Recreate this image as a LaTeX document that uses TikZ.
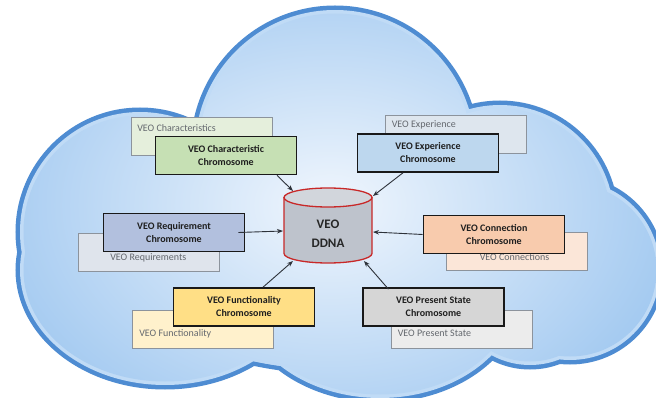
\documentclass[tikz,border=0pt]{standalone}
\usepackage{fontspec}
\setmainfont{Carlito}
\usetikzlibrary{arrows.meta}
\definecolor{cloudline}{RGB}{78,140,210}
\definecolor{cloudrim}{RGB}{192,219,246}
\definecolor{cloudin}{RGB}{240,246,253}
\definecolor{cloudout}{RGB}{136,186,236}
\definecolor{frontline}{RGB}{25,25,25}
\definecolor{backline}{RGB}{140,147,156}
\definecolor{backtextc}{RGB}{100,104,110}
\definecolor{arrowc}{RGB}{45,50,58}
\definecolor{cylred}{RGB}{200,40,40}
\definecolor{cylbodyc}{RGB}{190,195,204}
\definecolor{cyltopc}{RGB}{210,214,220}
\definecolor{charF}{RGB}{198,224,180}
\definecolor{charB}{RGB}{229,239,220}
\definecolor{expF}{RGB}{189,215,238}
\definecolor{expB}{RGB}{222,230,238}
\definecolor{reqF}{RGB}{178,192,222}
\definecolor{reqB}{RGB}{223,228,236}
\definecolor{conF}{RGB}{248,203,173}
\definecolor{conB}{RGB}{251,230,216}
\definecolor{funF}{RGB}{255,223,134}
\definecolor{funB}{RGB}{255,241,204}
\definecolor{preF}{RGB}{214,214,214}
\definecolor{preB}{RGB}{236,236,236}
\newcommand\mycloudpath[1]{%
 (335,150) circle[radius=140pt-#1]
 (140,232) circle[radius=120pt-#1]
 (165,270) ellipse[x radius=145pt-#1, y radius=115pt-#1]
 (380,290) ellipse[x radius=140pt-#1, y radius=108pt-#1]
 (500,219) circle[radius=114pt-#1]
 (570,270) circle[radius=90pt-#1]
 (530,285) circle[radius=80pt-#1]
 (340,250) ellipse[x radius=230pt, y radius=120pt]}
\tikzset{
 frontbox/.style={draw=frontline, line width=1.6pt, minimum width=141pt, minimum height=38pt,
   inner sep=0pt, align=center, font=\fontsize{10}{13}\selectfont\bfseries, text=black!88},
 backbox/.style={draw=backline, line width=0.8pt, minimum width=141pt, minimum height=38pt, inner sep=0pt},
 backtext/.style={anchor=west, inner sep=0pt, font=\fontsize{10}{12}\selectfont, text=backtextc},
 arr/.style={draw=arrowc, line width=0.9pt, -{Stealth[length=6pt,width=4.5pt]}},
 cylstyle/.style={draw=cylred, line width=1.3pt},
}
\begin{document}
\begin{tikzpicture}[x=1pt,y=-1pt]
\useasboundingbox (0,0) rectangle (656,398);
\clip (0,0) rectangle (656,398);
\fill[white] (0,0) rectangle (656,398);
% cloud
\draw[cloudline, line width=9pt] \mycloudpath{0pt};
\fill[cloudrim] \mycloudpath{0pt};
\begin{scope}
 \clip \mycloudpath{3.5pt};
 \shade[inner color=cloudin, outer color=cloudout] (330,205) ellipse[x radius=480pt, y radius=340pt];
\end{scope}
% cylinder
\filldraw[cylstyle, fill=cylbodyc] (284,197.5) -- (284,253.5)
  arc[start angle=180, end angle=360, x radius=44pt, y radius=9.5pt] -- (372,197.5) -- cycle;
\filldraw[cylstyle, fill=cyltopc] (328,197.5) ellipse[x radius=44pt, y radius=9.5pt];
\node[font=\fontsize{13}{19}\selectfont\bfseries, text=black!85, align=center] (db) at (328,233.5) {VEO\\DDNA};
\coordinate (cTL) at (293,191);
\coordinate (cTR) at (373,196);
\coordinate (cL) at (283,231);
\coordinate (cR) at (373,232);
\coordinate (cBL) at (293,261);
\coordinate (cBR) at (364,261);
% characteristic
\node[backbox, fill=charB] (charB) at (202,136) {};
\node[backtext] (charT) at ([xshift=6pt,yshift=-11pt]charB.north west) {VEO Characteristics};
\node[frontbox, fill=charF] (charF) at (226,155.5) {VEO Characteristic\\Chromosome};
% experience
\node[backbox, fill=expB] (expB) at (455.5,134.5) {};
\node[backtext] (expT) at ([xshift=7pt,yshift=-10pt]expB.north west) {VEO Experience};
\node[frontbox, fill=expF] (expF) at (428,153) {VEO Experience\\Chromosome};
% requirement
\node[backbox, fill=reqB] (reqB) at (149,252) {};
\node[backtext] (reqT) at ([xshift=32pt,yshift=14pt]reqB.south west) {VEO Requirements};
\node[frontbox, fill=reqF] (reqF) at (174,232.5) {VEO Requirement\\Chromosome};
% connection
\node[backbox, fill=conB] (conB) at (516.5,251.5) {};
\node[backtext] (conT) at ([xshift=34pt,yshift=14pt]conB.south west) {VEO Connections};
\node[frontbox, fill=conF] (conF) at (494,234.5) {VEO Connection\\Chromosome};
% functionality
\node[backbox, fill=funB] (funB) at (203,329) {};
\node[backtext] (funT) at ([xshift=7pt,yshift=15pt]funB.south west) {VEO Functionality};
\node[frontbox, fill=funF] (funF) at (244,307) {VEO Functionality\\Chromosome};
% present state
\node[backbox, fill=preB] (preB) at (461.5,329) {};
\node[backtext] (preT) at ([xshift=7pt,yshift=15pt]preB.south west) {VEO Present State};
\node[frontbox, fill=preF] (preF) at (433.5,307) {VEO Present State\\Chromosome};
% arrows
\draw[arr] ([xshift=51pt]charF.south) -- (cTL);
\draw[arr] ([xshift=-25pt]expF.south) -- (cTR);
\draw[arr] ([xshift=-7pt]reqF.east) -- (cL);
\draw[arr] (conF.west) -- (cR);
\draw[arr] ([xshift=19pt]funF.north) -- (cBL);
\draw[arr] ([xshift=-45pt,yshift=-2pt]preF.north) -- (cBR);
\end{tikzpicture}
\end{document}
